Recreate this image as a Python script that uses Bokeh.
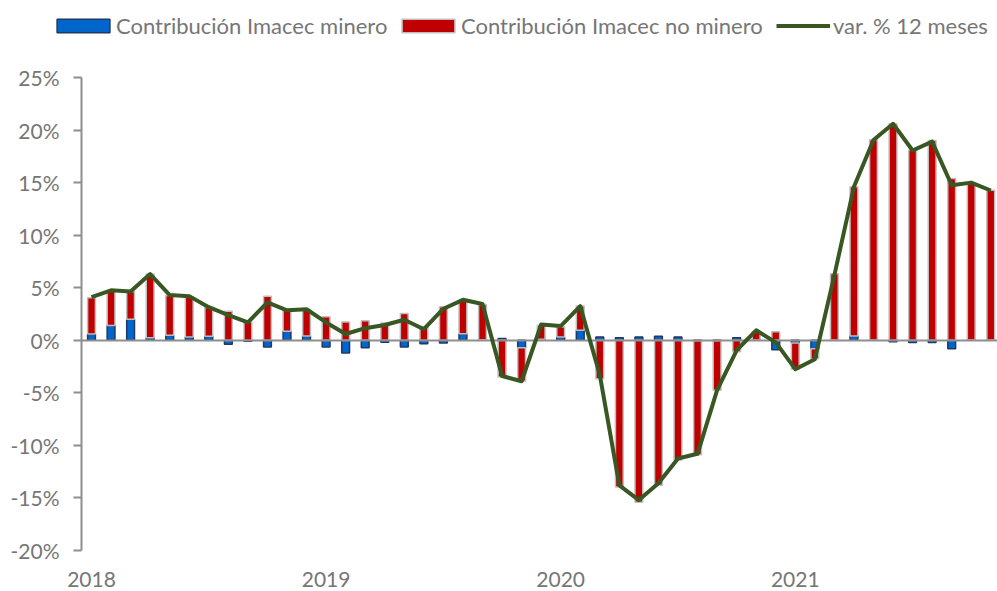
from bokeh.plotting import figure
from bokeh.models import (Range1d, FixedTicker, Legend, LegendItem, LinearAxis,
                          PrintfTickFormatter, ColumnDataSource)
from bokeh.embed import file_html
from bokeh.resources import INLINE

# ---------------- data ----------------
periodos = [f"{y}-{m:02d}" for y in range(2018, 2022) for m in range(1, 13)][:47]

minero = [0.60, 1.40, 2.00, 0.25, 0.47, 0.30, 0.38, -0.38, -0.10, -0.63, 0.86, 0.40,
          -0.63, -1.20, -0.70, -0.19, -0.63, -0.32, -0.25, 0.63, 0.05, 0.16, -0.70, 0.10,
          0.32, 0.95, 0.32, 0.25, 0.32, 0.38, 0.32, -0.05, -0.05, 0.25, 0.03, -0.90,
          -0.25, -0.80, 0.02, 0.41, 0.03, -0.15, -0.20, -0.20, -0.80, 0.03, 0.03]

no_minero = [3.45, 3.30, 2.65, 6.05, 3.80, 3.85, 2.75, 2.75, 1.75, 4.20, 2.00, 2.52,
             2.25, 1.75, 1.85, 1.65, 2.55, 1.30, 3.20, 3.20, 3.35, -3.50, -3.20, 1.33,
             0.95, 2.32, -3.65, -13.95, -15.40, -13.80, -11.40, -10.85, -4.70, -1.10, 0.80, 0.80,
             -2.50, -0.95, 6.30, 14.20, 19.05, 20.60, 18.10, 19.00, 15.40, 14.90, 14.25]

var_12m = [4.10, 4.75, 4.65, 6.30, 4.30, 4.20, 3.15, 2.40, 1.70, 3.60, 2.85, 2.95,
           1.70, 0.60, 1.15, 1.45, 1.95, 1.05, 3.00, 3.85, 3.45, -3.40, -3.90, 1.50,
           1.35, 3.25, -3.30, -13.80, -15.20, -13.60, -11.25, -10.80, -4.75, -0.95, 0.95, -0.20,
           -2.75, -1.80, 6.20, 14.60, 19.05, 20.60, 18.05, 18.90, 14.75, 15.00, 14.25]

y_ticks = [-20, -15, -10, -5, 0, 5, 10, 15, 20, 25]
year_periods = ["2018-01", "2019-01", "2020-01", "2021-01"]
year_labels = ["2018", "2019", "2020", "2021"]
legend_labels = ["Contribución Imacec minero", "Contribución Imacec no minero", "var. % 12 meses"]

# ---------------- stacking (Excel style: positives up, negatives down) -------------
x = list(range(len(periodos)))
b_bot, b_top, r_bot, r_top = [], [], [], []
for b, r in zip(minero, no_minero):
    b_bot.append(min(0, b))
    b_top.append(max(0, b))
    if r >= 0:
        base = b if b > 0 else 0
    else:
        base = b if b < 0 else 0
    r_bot.append(min(base, base + r))
    r_top.append(max(base, base + r))

src = ColumnDataSource(dict(x=x, b_bot=b_bot, b_top=b_top, r_bot=r_bot, r_top=r_top, v=var_12m))

# ---------------- layout geometry ----------------
W, H = 997, 591
FRAME_BOTTOM = 560                    # px from top of page
PX_PER_MONTH = 19.55
AXIS_X = -10 / PX_PER_MONTH          # y-axis sits 10px left of the first month
X_START = -91 / PX_PER_MONTH         # frame reaches the left edge of the page
X_END = (W - 91) / PX_PER_MONTH
Y_MIN, Y_MAX = y_ticks[0], y_ticks[-1]
PX_PER_PCT = (550 - 77) / (Y_MAX - Y_MIN)
Y_TOP = Y_MAX + 77 / PX_PER_PCT                  # room above 25% for the legend
Y_BOT = Y_TOP - FRAME_BOTTOM / PX_PER_PCT        # room below -20% for its label

FONT = "Lato"
TXT = "#767676"
AX = "#8e8e8e"

p = figure(width=W, height=H, output_backend="svg", toolbar_location=None,
           x_range=Range1d(X_START, X_END), y_range=Range1d(Y_BOT, Y_TOP),
           min_border_left=0, min_border_right=0, min_border_top=0,
           min_border_bottom=H - FRAME_BOTTOM)
p.outline_line_color = None
p.xgrid.visible = False
p.ygrid.visible = False
p.background_fill_color = "white"

bw = 0.40
r_blue = p.vbar(x="x", bottom="b_bot", top="b_top", width=bw, source=src,
                fill_color="#0066CC", line_color="#1F3864", line_width=1.5)
r_red = p.vbar(x="x", bottom="r_bot", top="r_top", width=bw, source=src,
               fill_color="#C00000", line_color="#BFBFBF", line_width=1.5)

r_line = p.line(x="x", y="v", source=src, line_color="#385723", line_width=4,
                line_join="round", level="overlay")

# y axis (value axis) drawn at a fixed position inside the frame
ya = p.yaxis[0]
ya.fixed_location = AXIS_X
ya.bounds = (Y_MIN, Y_MAX)
ya.ticker = FixedTicker(ticks=y_ticks)
ya.formatter = PrintfTickFormatter(format="%d%%")
ya.axis_line_color = AX
ya.axis_line_width = 2
ya.major_tick_line_color = AX
ya.major_tick_line_width = 2
ya.major_tick_out = 8
ya.major_tick_in = 0
ya.minor_tick_line_color = None
ya.major_label_text_font = FONT
ya.major_label_text_font_size = "21px"
ya.major_label_text_color = TXT
ya.major_label_standoff = 14

# category axis line at 0
zero_axis = LinearAxis(fixed_location=0, bounds=(AXIS_X, X_END), ticker=FixedTicker(ticks=[]),
                       axis_line_color=AX, axis_line_width=2,
                       major_tick_line_color=None, minor_tick_line_color=None,
                       major_label_text_alpha=0)
p.add_layout(zero_axis, "below")

# x axis labels (years) at the bottom
xa = p.xaxis[0]
tick_pos = [periodos.index(s) for s in year_periods]
xa.ticker = FixedTicker(ticks=tick_pos)
xa.major_label_overrides = {t: l for t, l in zip(tick_pos, year_labels)}
xa.axis_line_color = None
xa.major_tick_line_color = None
xa.minor_tick_line_color = None
xa.major_label_text_font = FONT
xa.major_label_text_font_size = "21px"
xa.major_label_text_color = TXT
xa.major_label_standoff = 5

# legends inside the (extended) frame, above the 25% line
LEG_VY = FRAME_BOTTOM - 39

def mk_legend(label, rend, vx, gw, standoff):
    lg = Legend(items=[LegendItem(label=label, renderers=[rend])],
                location=(vx, LEG_VY), orientation="horizontal",
                glyph_width=gw, glyph_height=17, label_height=17,
                label_standoff=standoff, padding=0, margin=0, spacing=0,
                border_line_color=None, background_fill_alpha=0,
                label_text_font=FONT, label_text_font_size="22px",
                label_text_color=TXT)
    p.add_layout(lg)

mk_legend(legend_labels[0], r_blue, 50, 66, 0)
mk_legend(legend_labels[1], r_red, 395, 66, 0)
mk_legend(legend_labels[2], r_line, 776, 54, 3)

open("out.html", "w").write(file_html(p, INLINE))
